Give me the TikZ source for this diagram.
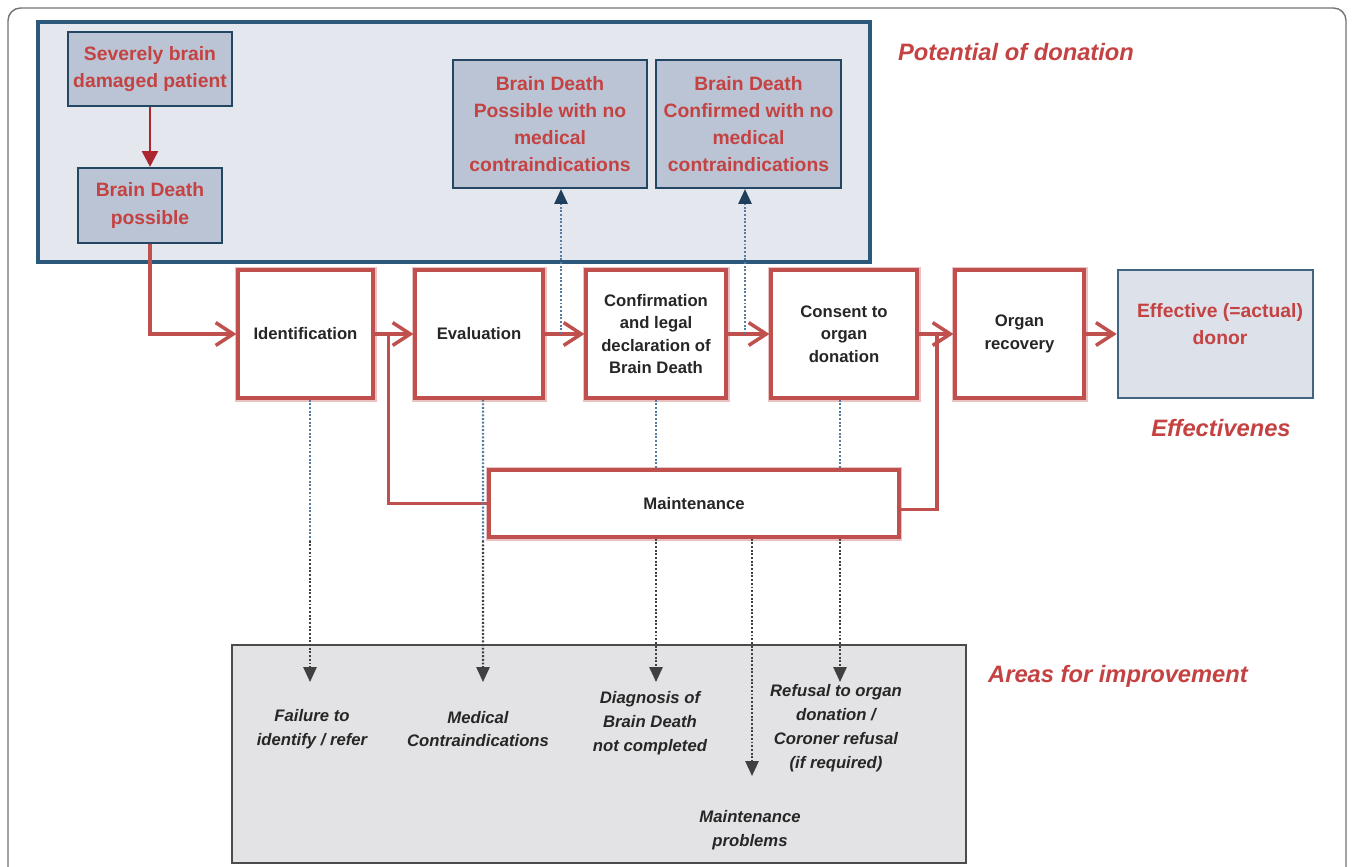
\documentclass[tikz,border=0pt]{standalone}
\usepackage{fontspec}
\setmainfont{Liberation Sans}
\usetikzlibrary{arrows.meta,calc}
\definecolor{flowred}{RGB}{192,80,77}
\definecolor{txtred}{RGB}{196,66,66}
\definecolor{darkred}{RGB}{172,38,48}
\definecolor{navyline}{RGB}{44,88,124}
\definecolor{navytip}{RGB}{30,62,92}
\definecolor{boxblue}{RGB}{186,196,212}
\definecolor{potfill}{RGB}{228,231,238}
\definecolor{effill}{RGB}{221,225,233}
\definecolor{areafill}{RGB}{227,227,229}
\definecolor{dotblue}{RGB}{84,124,162}
\tikzset{
	potbox/.style={draw=navyline!80!black, line width=1.2pt, fill=boxblue, text=txtred,
		font=\fontsize{11}{15.4}\selectfont\bfseries, align=center, inner sep=2pt},
	flowbox/.style={draw=flowred, line width=1.8pt, fill=white, preaction={draw=flowred!35, line width=4pt},
		font=\fontsize{9.5}{12.8}\selectfont\bfseries, text=black!85, align=center, minimum height=2.56cm},
	flowline/.style={draw=flowred, line width=2pt},
	flowarrow/.style={flowline, -{Straight Barb[length=10pt,width=13pt]}},
	dotline/.style={draw=dotblue, line width=1.3pt, dash pattern=on 1.1pt off 1pt},
	downarrow/.style={draw=black!75, line width=1.2pt, dash pattern=on 1.1pt off 1pt, -{Triangle[length=8.5pt,width=7.5pt]}},
	uparrow/.style={dotline, -{Triangle[length=8.5pt,width=7.5pt,color=navytip]}},
	issue/.style={font=\fontsize{9.5}{13.6}\selectfont\bfseries\itshape, text=black!85, align=center},
	area/.style={font=\fontsize{13.5}{16}\selectfont\bfseries\itshape, text=txtred}
}
\begin{document}
\begin{tikzpicture}[x=0.02cm,y=-0.02cm]
	\useasboundingbox (0,0) rectangle (1354,866);
	\begin{scope}
		\clip (0,0) rectangle (1354,866);
		\draw[draw=black!55, line width=0.8pt, fill=white, rounded corners=0.25cm] (8,8) rectangle (1346,920);
	\end{scope}
	% potential of donation
	\draw[draw=navyline, line width=1.8pt, fill=potfill] (38,22) rectangle (870,262);
	\node[potbox, minimum width=3.28cm, minimum height=1.48cm] (sev) at (150,69) {Severely brain\\damaged patient};
	\node[potbox, minimum width=2.88cm, minimum height=1.5cm] (bdp) at (150,205.5) {Brain Death\\possible};
	\node[potbox, minimum width=3.88cm, minimum height=2.56cm] (bdpos) at (550,124) {Brain Death\\Possible with no\\medical\\contraindications};
	\node[potbox, minimum width=3.7cm, minimum height=2.56cm] (bdconf) at (748.5,124) {Brain Death\\Confirmed with no\\medical\\contraindications};
	\node[area] (potlabel) at (1016,52) {Potential of donation};
	\draw[draw=darkred, line width=1.5pt, -{Triangle[length=9pt,width=9pt]}] (sev) -- (bdp);

	% process
	\node[flowbox, minimum width=2.7cm] (ident) at (305.5,334) {Identification};
	\node[flowbox, minimum width=2.56cm] (eval) at (479,334) {Evaluation};
	\node[flowbox, minimum width=2.8cm] (confirm) at (656,334) {Confirmation\\and legal\\declaration of\\Brain Death};
	\node[flowbox, minimum width=2.92cm] (consent) at (844,334) {Consent to\\organ\\donation};
	\node[flowbox, minimum width=2.58cm] (organ) at (1019.5,334) {Organ\\recovery};
	\node[draw=dotblue!80!black, line width=1.5pt, fill=effill, minimum width=3.9cm, minimum height=2.56cm] (effective) at (1215.5,334) {};
	\node[potbox, draw=none, fill=none] (efftext) at (1220,324) {Effective (=actual)\\donor};
	\node[area] (efflabel) at (1221,428) {Effectivenes};
	\node[flowbox, minimum width=8.2cm, minimum height=1.34cm] (maint) at (694,503.5) {Maintenance};

	\draw[flowarrow] (bdp.south) |- (ident.west);
	\draw[flowarrow] (ident.east) -- (eval.west);
	\draw[flowarrow] (eval.east) -- (confirm.west);
	\draw[flowarrow] (confirm.east) -- (consent.west);
	\draw[flowarrow] (consent.east) -- (organ.west);
	\draw[flowarrow] (organ.east) -- (effective.west);
	\draw[flowline] (maint.west) -| ($(ident.east)!0.36!(eval.west)$);
	\draw[flowline] ([yshift=-6*0.02cm]maint.east) -| ($(consent.east)!0.53!(organ.west)$);

	\coordinate (u1) at (561,334);
	\coordinate (u2) at (745,334);
	\draw[uparrow] (u1) -- (u1 |- bdpos.south);
	\draw[uparrow] (u2) -- (u2 |- bdconf.south);

	% areas for improvement
	\draw[draw=black!70, line width=1.5pt, fill=areafill] (232,645) rectangle (966,863);
	\node[area] (arealabel) at (1118,676) {Areas for improvement};
	\coordinate (t1) at (310,682);
	\coordinate (t2) at (483,682);
	\coordinate (t3) at (656,682);
	\coordinate (t4) at (840,682);
	\coordinate (t5) at (752,776);
	\draw[dotline] (ident.south -| t1) -- ($(ident.south -| t1)!0.5!(t1)$);
	\draw[downarrow] ($(ident.south -| t1)!0.5!(t1)$) -- (t1);
	\draw[dotline] (eval.south -| t2) -- ($(eval.south -| t2)!0.5!(t2)$);
	\draw[downarrow] ($(eval.south -| t2)!0.5!(t2)$) -- (t2);
	\draw[dotline] (confirm.south -| t3) -- (maint.north -| t3);
	\draw[downarrow] (maint.south -| t3) -- (t3);
	\draw[dotline] (consent.south -| t4) -- (maint.north -| t4);
	\draw[downarrow] (maint.south -| t4) -- (t4);
	\draw[downarrow] (maint.south -| t5) -- (t5);

	\node[issue] (fail) at (312,729) {Failure to\\identify / refer};
	\node[issue] (medc) at (478,729) {Medical\\Contraindications};
	\node[issue] (diag) at (650,723) {Diagnosis of\\Brain Death\\not completed};
	\node[issue] (refus) at (836,728) {Refusal to organ\\donation /\\Coroner refusal\\(if required)};
	\node[issue] (mprob) at (750,830) {Maintenance\\problems};
\end{tikzpicture}
\end{document}
